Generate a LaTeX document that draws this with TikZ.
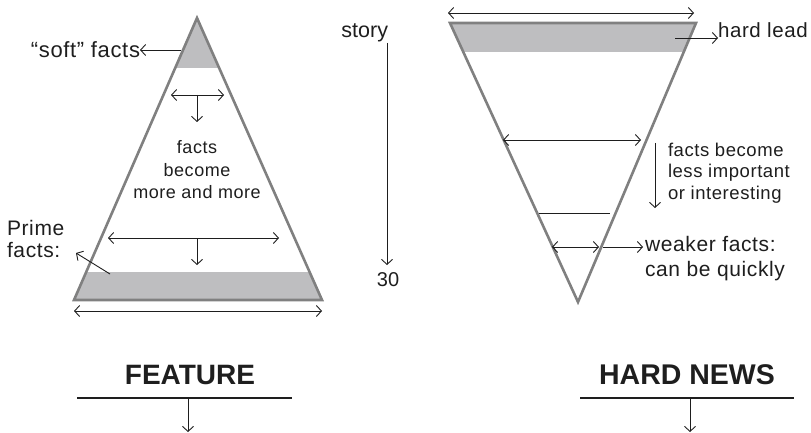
\documentclass[tikz,border=0pt]{standalone}
\usepackage{fontspec}
\setmainfont{Liberation Sans}
\newfontfamily\spaced{Liberation Sans}[LetterSpace=3]
\usetikzlibrary{arrows.meta}
\definecolor{bandc}{RGB}{190,190,192}
\definecolor{edgec}{RGB}{128,128,128}
\definecolor{inkc}{RGB}{30,30,30}
\newcommand{\fs}[2]{\fontsize{#1}{#2}\selectfont}
\tikzset{
  ink/.style={draw=inkc, line width=0.9pt},
  arr/.style={ink, -{Straight Barb[length=5pt,width=11pt]}},
  darr/.style={ink, {Straight Barb[length=5pt,width=11pt]}-{Straight Barb[length=5pt,width=11pt]}},
  tri/.style={draw=edgec, line width=2.6pt, line join=miter},
  lbl/.style={inner sep=0pt, outer sep=0pt, text=inkc},
  rule/.style={draw=inkc, line width=2pt},
}
\begin{document}
\begin{tikzpicture}[x=1pt,y=-1pt]
\useasboundingbox (0,0) rectangle (811,433);
% ---------- left triangle (FEATURE)
\begin{scope}
  \clip (197,18) -- (74,300) -- (322,300) -- cycle;
  \fill[bandc] (60,10) rectangle (340,68);
  \fill[bandc] (60,272) rectangle (340,310);
\end{scope}
\draw[tri] (197,18) -- (74,300) -- (322,300) -- cycle;
% ---------- right triangle (HARD NEWS)
\begin{scope}
  \clip (450,23) -- (696,23) -- (578,302) -- cycle;
  \fill[bandc] (440,15) rectangle (710,52);
\end{scope}
\draw[tri] (450,23) -- (696,23) -- (578,302) -- cycle;

% ---------- left texts
\node[lbl, anchor=east, font=\spaced\fs{22}{25}] (soft) at (140,50) {“soft”\hspace{0.3em}facts};
\node[lbl, align=center, font=\spaced\fs{18}{22.5}] (more) at (197,170) {facts\\become\\more and more};
\node[lbl, align=left, anchor=west, font=\spaced\fs{21}{22}] (prime) at (7,239) {Prime\\facts:};
\node[lbl, anchor=south east, font=\fs{21.5}{25}] (story) at (388,42) {story};
\node[lbl, font=\fs{20}{24}] (thirty) at (388,280) {30};

% left arrows
\coordinate (softA) at (181,50);
\draw[arr] (softA) -- (soft.east);
\coordinate (primeA) at (110,274);
\coordinate (primeB) at (76,253);
\draw[arr] (primeA) -- (primeB);
\coordinate (t1l) at (171,95); \coordinate (t1r) at (224,95);
\coordinate (t1m) at (197,95); \coordinate (t1d) at (197,122);
\draw[darr] (t1l) -- (t1r);
\draw[arr] (t1m) -- (t1d);
\coordinate (t2l) at (108,238); \coordinate (t2r) at (279,238);
\coordinate (t2m) at (197,238); \coordinate (t2d) at (197,265);
\draw[darr] (t2l) -- (t2r);
\draw[arr] (t2m) -- (t2d);
\coordinate (basel) at (74,311); \coordinate (baser) at (322,311);
\draw[darr] (basel) -- (baser);
\coordinate (storyA) at (387,43); \coordinate (storyB) at (387,265);
\draw[arr] (storyA) -- (storyB);

% ---------- right texts
\node[lbl, anchor=base west, font=\spaced\fs{20.5}{24}] (hard) at (718,38) {hard lead};
\node[lbl, align=left, anchor=north west, font=\spaced\fs{18.5}{21.5}] (less) at (668,143) {facts become\\less important\\or interesting};
\node[lbl, align=left, anchor=north west, font=\spaced\fs{21}{25}] (weak) at (645,236) {weaker facts:\\can be quickly};

% right arrows
\coordinate (topl) at (448,13); \coordinate (topr) at (694,13);
\draw[darr] (topl) -- (topr);
\coordinate (hardA) at (675,38);
\draw[arr] (hardA) -- (hard.base west);
\coordinate (m1l) at (503,140); \coordinate (m1r) at (641,140);
\draw[darr] (m1l) -- (m1r);
\coordinate (m2l) at (539,213); \coordinate (m2r) at (610,213);
\draw[ink] (m2l) -- (m2r);
\coordinate (m3l) at (552,247); \coordinate (m3r) at (599,247);
\draw[darr] (m3l) -- (m3r);
\coordinate (weakA) at (603,247); \coordinate (weakB) at (643,247);
\draw[arr] (weakA) -- (weakB);
\coordinate (lessA) at (655,143); \coordinate (lessB) at (655,208);
\draw[arr] (lessA) -- (lessB);

% ---------- bottom titles
\node[lbl, font=\fs{28}{32}\bfseries] (feat) at (190,375) {FEATURE};
\coordinate (fl) at (77,398); \coordinate (fr) at (292,398);
\draw[rule] (fl) -- (fr);
\coordinate (fm) at (188,398); \coordinate (fd) at (188,432);
\draw[arr] (fm) -- (fd);
\node[lbl, font=\fs{28.5}{32}\bfseries] (news) at (687,375) {HARD NEWS};
\coordinate (nl) at (580,398); \coordinate (nr) at (794,398);
\draw[rule] (nl) -- (nr);
\coordinate (nm) at (690,398); \coordinate (nd) at (690,432);
\draw[arr] (nm) -- (nd);
\end{tikzpicture}
\end{document}
